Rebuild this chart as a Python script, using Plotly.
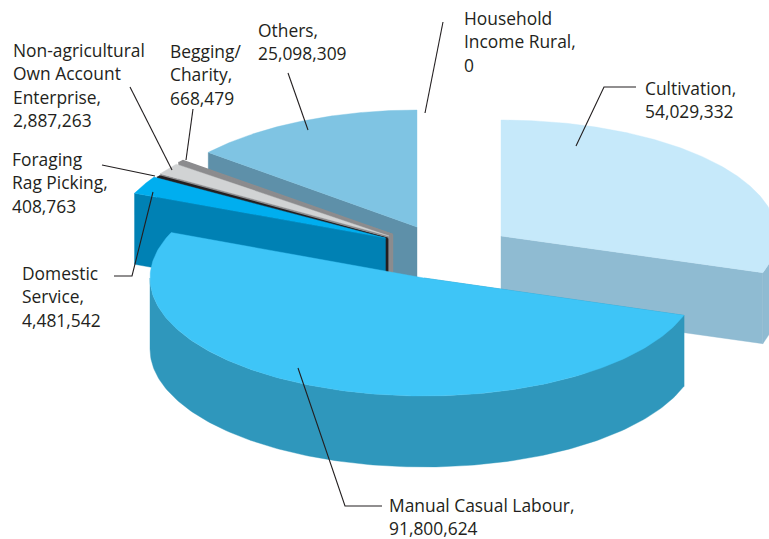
import numpy as np
import plotly.graph_objects as go

CATEGORIES = ["Household Income Rural", "Cultivation", "Manual Casual Labour", "Domestic Service",
              "Foraging Rag Picking", "Non-agricultural Own Account Enterprise", "Begging/ Charity", "Others"]
VALUES = [0, 54029332, 91800624, 4481542, 408763, 2887263, 668479, 25098309]
LABEL_LINES = [["Household", "Income Rural,"], ["Cultivation,"], ["Manual Casual Labour,"], ["Domestic", "Service,"],
               ["Foraging", "Rag Picking,"], ["Non-agricultural", "Own Account", "Enterprise,"], ["Begging/", "Charity,"], ["Others,"]]
TOP_COLORS = ["#ffffff", "#c6e9fa", "#3ec5f7", "#00aeef", "#231f20", "#d1d3d4", "#8c8c8e", "#7fc4e3"]
SIDE_COLORS = ["#ffffff", "#8fbbd2", "#2f97bc", "#0081b4", "#231f20", "#8c8c8e", "#8c8c8e", "#5e90a9"]
# Outline width of each wedge; the thinnest ones need it to stay visible
STROKES = [0, 0.4, 0.4, 0.4, 1.8, 0.4, 1.4, 0.4]
# Exploded centre and ellipse radii of each wedge, in pixels
CENTERS = [(417, 227), (501, 236), (424, 278), (385.5, 238), (387.5, 238.5), (389, 236), (392.5, 234.5), (417, 227)]
RADII = [(271, 117), (276, 116), (274, 118), (272, 116), (270, 116), (271, 116), (272, 116), (271, 117)]
DEPTH = 71
DRAW_ORDER = [7, 6, 5, 4, 3, 1, 2]
LABEL_POS = [(464, 17.5), (645, 87.5), (389, 504.5), (22, 272.5), (12, 158.5), (13, 49.5), (170, 50.5), (258, 29.5)]
LINE_STEP = 23.5
LEADERS = [
    [(443, 22), (425, 113)],
    [(636, 87), (604, 87), (576, 146)],
    [(298, 368), (345, 506), (382, 506)],
    [(114, 276), (132, 276), (153, 192)],
    [(102, 165), (155, 176)],
    [(130, 87), (172, 170)],
    [(193, 109), (186, 160)],
    [(288, 73), (308, 130)],
]

total = sum(VALUES)
edges = np.concatenate([[0], np.cumsum(VALUES)]) / total * 2 * np.pi


def rim(i, t):
    (cx, cy), (a, b) = CENTERS[i], RADII[i]
    return cx + a * np.sin(t), cy - b * np.cos(t)


def add_poly(fig, xs, ys, color, stroke=0.4):
    fig.add_trace(go.Scatter(x=list(xs), y=list(ys), mode="lines", fill="toself", fillcolor=color,
                             line=dict(color=color, width=stroke), hoverinfo="skip", showlegend=False))


fig = go.Figure()
for i in DRAW_ORDER:
    t0, t1 = edges[i], edges[i + 1]
    cx, cy = CENTERS[i]
    side, top = SIDE_COLORS[i], TOP_COLORS[i]

    # Radial wall turned towards the viewer
    t = t1 if t1 < np.pi else t0
    ex, ey = rim(i, t)
    add_poly(fig, [cx, ex, ex, cx, cx], [cy, ey, ey + DEPTH, cy + DEPTH, cy], side, STROKES[i])

    # Outer wall, only where the rim faces front
    lo, hi = max(t0, np.pi / 2), min(t1, 3 * np.pi / 2)
    if hi > lo:
        ts = np.linspace(lo, hi, 160)
        rx, ry = rim(i, ts)
        add_poly(fig, np.r_[rx, rx[::-1], rx[0]], np.r_[ry, ry[::-1] + DEPTH, ry[0]], side)

    # Top face
    ts = np.linspace(t0, t1, 200)
    rx, ry = rim(i, ts)
    add_poly(fig, np.r_[cx, rx, cx], np.r_[cy, ry, cy], top, STROKES[i])

# Leader lines from the labels into the wedges
for pts in LEADERS:
    xs, ys = zip(*pts)
    fig.add_trace(go.Scatter(x=xs, y=ys, mode="lines", line=dict(color="#231f20", width=1.1),
                             hoverinfo="skip", showlegend=False))

# Category labels, each ending with its value on a line of its own
annotations = []
for parts, value, (lx, ly) in zip(LABEL_LINES, VALUES, LABEL_POS):
    for k, line in enumerate(parts + [f"{value:,}"]):
        annotations.append(dict(x=lx, y=ly + k * LINE_STEP, text=line, showarrow=False, xanchor="left",
                                yanchor="middle", xshift=-2, align="left",
                                font=dict(family="Open Sans", size=17.4, color="#231f20")))

fig.update_layout(
    width=769, height=539, autosize=False,
    margin=dict(l=0, r=0, t=0, b=0),
    paper_bgcolor="white", plot_bgcolor="white",
    xaxis=dict(range=[0, 769], visible=False, fixedrange=True),
    yaxis=dict(range=[539, 0], visible=False, fixedrange=True),
    annotations=annotations,
)
fig.write_html("out.html", config=dict(displayModeBar=False))
